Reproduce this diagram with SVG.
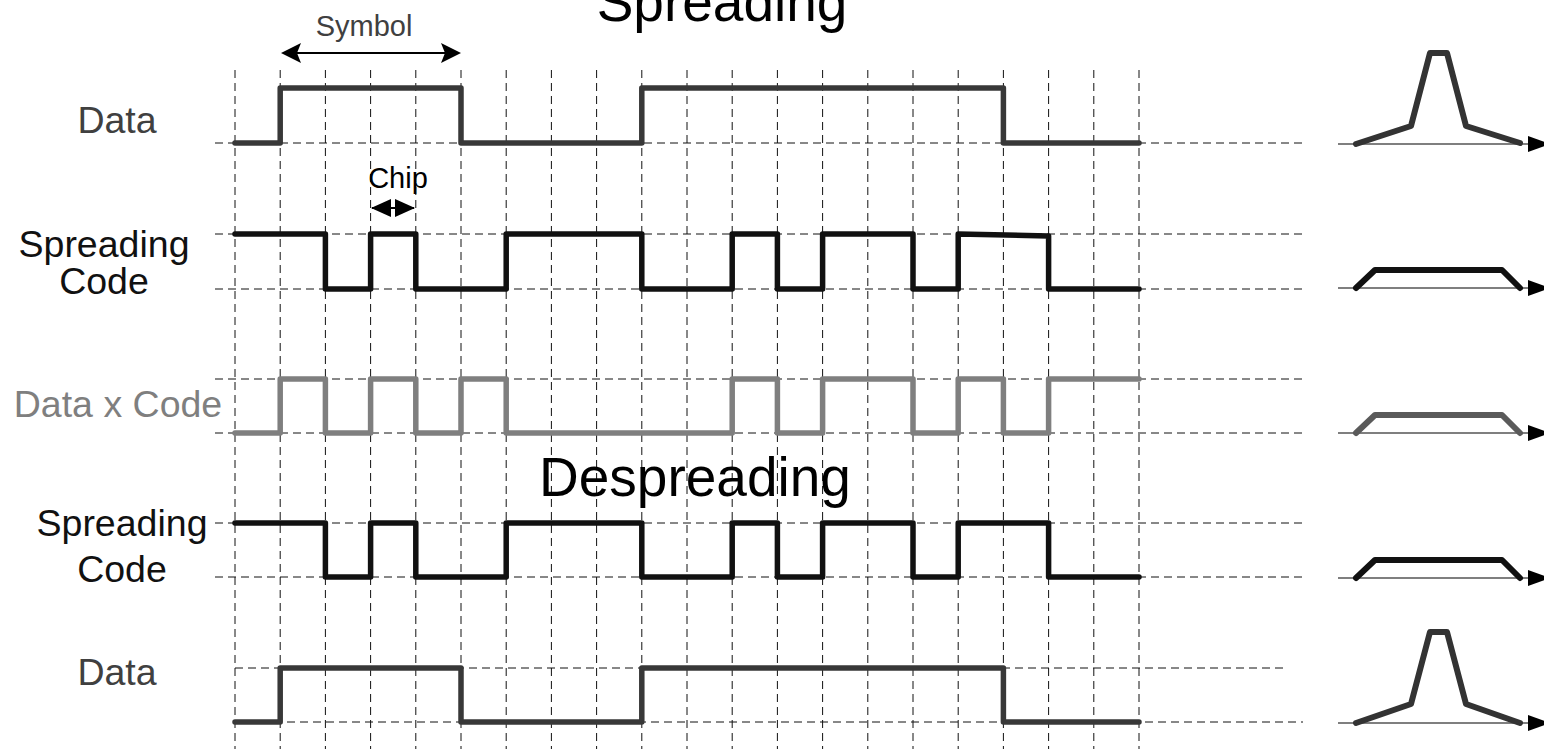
<svg xmlns="http://www.w3.org/2000/svg" width="1544" height="749" viewBox="0 0 1544 749">
<style>
.grid{fill:none;stroke:#111;stroke-width:1;stroke-dasharray:8 5}
.wave{fill:none;stroke-width:5.5;stroke-linejoin:round;stroke-linecap:round}
.spec{fill:none;stroke-width:6;stroke-linejoin:round;stroke-linecap:round}
.axis{fill:none;stroke:#555;stroke-width:1.6}
.lbl{font-family:"Liberation Sans",Arial,sans-serif;font-size:37.5px;text-anchor:middle}
.title{font-family:"Liberation Sans",Arial,sans-serif;font-size:55px;text-anchor:middle;fill:#000}
.small{font-family:"Liberation Sans",Arial,sans-serif;text-anchor:middle}
</style>
<defs>
<marker id="ah" viewBox="0 0 20 20" refX="18" refY="10" markerWidth="20" markerHeight="20" markerUnits="userSpaceOnUse" orient="auto-start-reverse">
<path d="M0,0 L20,10 L0,20 L4,10 Z" fill="#000"/>
</marker>
</defs>
<rect width="1544" height="749" fill="#fff"/>

<g id="grid">
<path class="grid" d="M235,70V749M280.2,70V749M325.4,70V749M370.6,70V749M415.8,70V749M461,70V749M506.2,70V749M551.4,70V749M596.6,70V749M641.8,70V749M687,70V749M732.2,70V749M777.4,70V749M822.6,70V749M867.8,70V749M913,70V749M958.2,70V749M1003.4,70V749M1048.6,70V749M1093.8,70V749M1139,70V749"/>
<path class="grid" d="M215,143H1303M215,234H1303M215,289H1303M215,379H1303M215,433H1303M215,523H1303M215,577H1303M235,668H1285M235,722H1303"/>
</g>

<g id="titles">
<text class="title" x="722" y="21">Spreading</text>
<text class="title" x="695" y="496">Despreading</text>
</g>

<g id="symbol-marker">
<text class="small" x="364" y="36" font-size="29" fill="#404040">Symbol</text>
<line x1="283" y1="53" x2="459" y2="53" stroke="#000" stroke-width="2" marker-start="url(#ah)" marker-end="url(#ah)"/>
</g>

<g id="chip-marker">
<text class="small" x="398" y="188" font-size="29" fill="#000">Chip</text>
<line x1="372" y1="208" x2="414" y2="208" stroke="#000" stroke-width="2"/>
<polygon points="371,208 391,199 391,217" fill="#000"/>
<polygon points="415,208 395,199 395,217" fill="#000"/>
</g>

<g id="row-data">
<text class="lbl" x="117" y="133" fill="#404040">Data</text>
<path class="wave" stroke="#383838" d="M235,143H280.2V88H461V143H641.8V88H1003.4V143H1139"/>
</g>

<g id="row-code">
<text class="lbl" x="104" y="257" fill="#111">Spreading</text>
<text class="lbl" x="104" y="294" fill="#111">Code</text>
<path class="wave" stroke="#111" d="M235,234H325.4V289H370.6V234H415.8V289H506.2V234H641.8V289H732.2V234H777.4V289H822.6V234H913V289H958.2V234L1048.6,236V289H1139"/>
</g>

<g id="row-product">
<text class="lbl" x="118" y="417" fill="#7f7f7f">Data x Code</text>
<path class="wave" stroke="#7f7f7f" d="M235,433H280.2V379H325.4V433H370.6V379H415.8V433H461V379H506.2V433H732.2V379H777.4V433H822.6V379H913V433H958.2V379H1003.4V433H1048.6V379H1139"/>
</g>

<g id="row-code2">
<text class="lbl" x="122" y="536" fill="#111">Spreading</text>
<text class="lbl" x="122" y="582" fill="#111">Code</text>
<path class="wave" stroke="#111" d="M235,523H325.4V577H370.6V523H415.8V577H506.2V523H641.8V577H732.2V523H777.4V577H822.6V523H913V577H958.2V523H1048.6V577H1139"/>
</g>

<g id="row-data2">
<text class="lbl" x="117" y="685" fill="#404040">Data</text>
<path class="wave" stroke="#383838" d="M235,722H280.2V668H461V722H641.8V668H1003.4V722H1139"/>
</g>

<g id="spectra">
<g id="spec-data">
<line class="axis" x1="1338" y1="144" x2="1530" y2="144"/>
<polygon points="1528,136 1550,144 1528,152" fill="#000"/>
<path class="spec" stroke="#333" d="M1356,144L1411,126L1430,53H1447L1466,126L1520,143"/>
</g>
<g id="spec-code">
<line class="axis" x1="1338" y1="288" x2="1530" y2="288"/>
<polygon points="1528,280 1550,288 1528,296" fill="#000"/>
<path class="spec" stroke="#111" d="M1356,288L1375,270H1502L1520,288"/>
</g>
<g id="spec-product">
<line class="axis" x1="1338" y1="433" x2="1530" y2="433"/>
<polygon points="1528,425 1550,433 1528,441" fill="#000"/>
<path class="spec" stroke="#5a5a5a" d="M1356,433L1375,415H1502L1520,433"/>
</g>
<g id="spec-code2">
<line class="axis" x1="1338" y1="578" x2="1530" y2="578"/>
<polygon points="1528,570 1550,578 1528,586" fill="#000"/>
<path class="spec" stroke="#111" d="M1356,578L1375,560H1502L1520,578"/>
</g>
<g id="spec-data2">
<line class="axis" x1="1338" y1="723" x2="1530" y2="723"/>
<polygon points="1528,715 1550,723 1528,731" fill="#000"/>
<path class="spec" stroke="#333" d="M1356,723L1411,704L1430,632H1447L1466,704L1520,723"/>
</g>
</g>
</svg>
